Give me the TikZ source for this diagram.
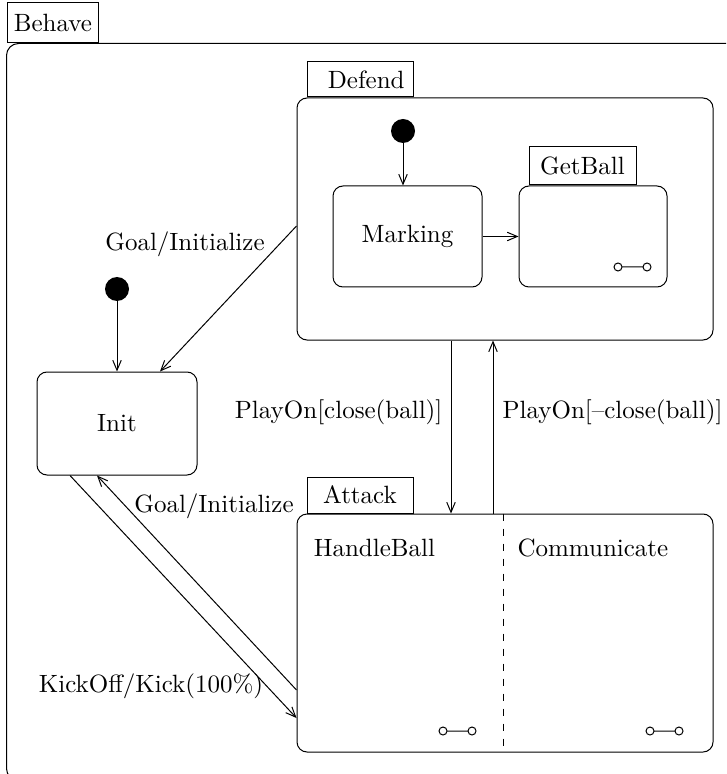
\documentclass[tikz,border=0pt]{standalone}
\usetikzlibrary{arrows.meta,positioning}
\begin{document}
\begin{tikzpicture}[x=1pt,y=1pt,
    >={Straight Barb[length=4pt,width=3.4pt]},
    state/.style={draw, rounded corners=4pt, inner sep=0pt},
    tab/.style={draw, anchor=south west, inner sep=0pt, minimum height=14pt},
    initial/.style={fill, circle, minimum size=9.6pt, inner sep=0pt},
    trans/.style={->},
    compo/.pic={\draw (-5.8,0) circle (1.6) (-4.2,0) -- (4.2,0) (5.8,0) circle (1.6);}]

  \clip (0,0) rectangle (290.4,-309.6);

  % outer superstate
  \node[state, rounded corners=4.8pt, minimum width=293.6pt, minimum height=294.8pt, anchor=north west] (behave) at (2.4,-17.2) {};
  \node[tab, minimum width=36.4pt, minimum height=16pt] (behavetab) at ([xshift=0.4pt]behave.north west) {Behave};

  % Defend
  \node[state, minimum width=166.4pt, minimum height=96.8pt] (defend) at (202,-87.6) {};
  \node[tab, minimum width=42.4pt] (defendtab) at ([xshift=4pt]defend.north west) {\hspace*{5pt}Defend};
  \node[initial] (defdot) at (161.2,-52.4) {};
  \node[state, minimum width=59.6pt, minimum height=40.4pt] (marking) at (163,-94.6) {Marking};
  \node[state, minimum width=59.2pt, minimum height=40.4pt] (getball) at (237.2,-94.6) {};
  \node[tab, minimum width=42.8pt, minimum height=15.2pt] (getballtab) at ([xshift=4pt]getball.north west) {GetBall};
  \pic at (253,-106.8) {compo};

  % Init
  \node[initial] (dot) at (46.8,-115.6) {};
  \node[state, minimum width=64pt, minimum height=41.2pt] (init) at (46.8,-169.4) {Init};

  % Attack
  \node[state, minimum width=166.4pt, minimum height=95.2pt] (attack) at (202,-253.2) {};
  \node[tab, minimum width=42.4pt, minimum height=14.4pt] (attacktab) at ([xshift=4pt]attack.north west) {Attack};
  \node[anchor=west] (handle) at (122,-219.2) {HandleBall};
  \node[anchor=west] (comm) at (203.5,-219.2) {Communicate};
  \draw[dashed] ([xshift=-0.8pt]attack.north) -- ([xshift=-0.8pt]attack.south);
  \pic at (183,-292.4) {compo};
  \pic at (265.8,-292.4) {compo};

  % transitions
  \draw[trans] (defdot) -- (defdot |- marking.north);
  \draw[trans] (marking.east) -- (getball.west);
  \draw[trans] (dot) -- (init.north);
  \draw[trans] ([yshift=-2.8pt]defend.west) -- ([xshift=17.2pt]init.north);
  \node (goal1) at (74,-97.6) {Goal/Initialize};
  \draw[trans] ([xshift=-21.6pt]defend.south) -- ([xshift=-21.6pt]attack.north);
  \draw[trans] ([xshift=-4.8pt]attack.north) -- ([xshift=-4.8pt]defend.south);
  \node[anchor=east] (close) at (180.5,-164.8) {PlayOn[close(ball)]};
  \node[anchor=west] (notclose) at (197.5,-164.8) {PlayOn[--close(ball)]};
  \draw[trans] ([yshift=-22.8pt]attack.west) -- ([xshift=-8pt]init.south);
  \draw[trans] ([xshift=-18.8pt]init.south) -- ([yshift=-34pt]attack.west);
  \node (goal2) at (85.6,-202.4) {Goal/Initialize};
  \node (kick) at (60.4,-274.4) {KickOff/Kick(100\%)};
\end{tikzpicture}
\end{document}
